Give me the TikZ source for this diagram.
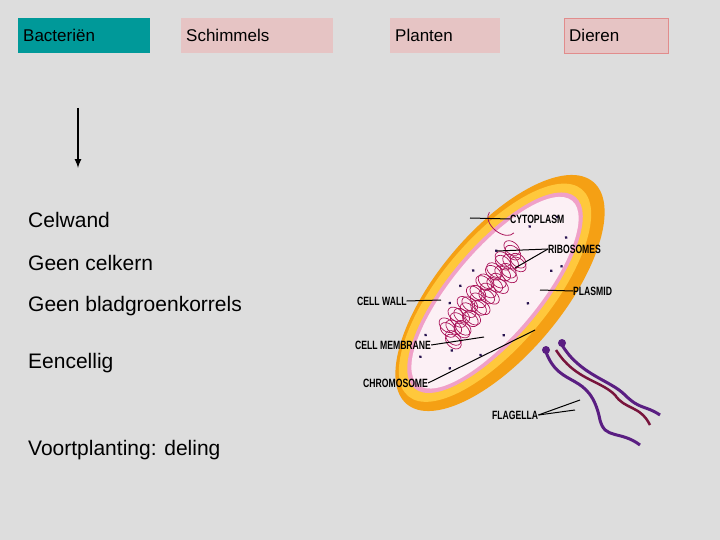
\documentclass[tikz,border=0pt]{standalone}
\usepackage{fontspec}
\setmainfont{Liberation Sans}
\definecolor{bg}{RGB}{221,221,221}
\definecolor{teal2}{RGB}{0,153,153}
\definecolor{pinkb}{RGB}{230,196,196}
\definecolor{pinkd}{RGB}{225,140,140}
\definecolor{wall}{RGB}{245,160,20}
\definecolor{wall2}{RGB}{255,200,60}
\definecolor{memb}{RGB}{240,160,200}
\definecolor{cyto}{RGB}{252,240,245}
\definecolor{chrom}{RGB}{170,20,90}
\definecolor{ribo}{RGB}{40,20,80}
\definecolor{flag}{RGB}{90,30,130}
\definecolor{flag2}{RGB}{120,20,60}
\begin{document}
\begin{tikzpicture}[x=1pt,y=-1pt,
  tab/.style={anchor=north west,font=\fontsize{17}{17}\selectfont,inner sep=0pt,minimum height=35pt,text depth=0pt,align=left},
  item/.style={anchor=west,font=\fontsize{21}{21}\selectfont,inner sep=0pt},
  lab/.style={font=\bfseries\fontsize{12}{12}\selectfont,xscale=0.72,inner sep=0pt},
  ln/.style={black,line width=1pt}]
\fill[bg] (0,0) rectangle (720,540);
\useasboundingbox (0,0) rectangle (720,540);
\node[tab,fill=teal2,minimum width=132pt,text width=122pt,inner xsep=5pt] (b) at (18,18) {Bacteriën};
\node[tab,fill=pinkb,minimum width=149pt,text width=142pt,inner xsep=5pt] (s) at (181,18) {Schimmels};
\node[tab,fill=pinkb,minimum width=107pt,text width=100pt,inner xsep=5pt] (p) at (390,18) {Planten};
\node[tab,fill=pinkb,draw=pinkd,minimum width=102pt,text width=94pt,inner xsep=5pt] (d) at (564,18) {Dieren};
\coordinate (a1) at (78,108); \coordinate (a2) at (78,168);
\draw[-latex,line width=2pt] (a1) -- (a2);
\node[item] (t1) at (28,220) {Celwand};
\node[item] (t2) at (28,263) {Geen celkern};
\node[item] (t3) at (28,306) {Geen bladgroenkorrels};
\node[item] (t4) at (28,363) {Eencellig};
\node[item] (t5) at (28,450) {Voortplanting: deling};
% bacterium
\begin{scope}[shift={(500,293)},rotate=50]
\fill[wall] (0,0) ellipse (145 and 62);
\fill[wall2] (-3,-4) ellipse (135 and 54);
\fill[memb] (-3,-4) ellipse (125 and 46);
\fill[cyto] (-3,-4) ellipse (120 and 42);
\foreach \i in {1,...,40}{\draw[chrom,line width=0.7pt] (-70+\i*2.8,{-12+8*sin(\i*70)}) circle (6 and 9);}
\draw[chrom,line width=0.8pt] (55,-28) arc (90:270:10 and 16);
\foreach \p in {(-100,-20),(-90,10),(-80,-30),(-60,25),(-40,-32),(-30,30),(0,-35),(10,28),(30,-30),(50,25),(70,-20),(85,15),(95,-5),(-75,0),(-20,-35),(60,30)}
  \fill[ribo] \p circle (1.6);
\end{scope}
\draw[flag,line width=3pt] (546,352) .. controls (560,390) and (590,370) .. (600,420) .. controls (605,440) and (620,430) .. (640,445);
\draw[flag2,line width=2.5pt] (556,350) .. controls (575,380) and (600,380) .. (615,395) .. controls (625,410) and (640,405) .. (650,425);
\draw[flag,line width=3pt] (562,345) .. controls (580,375) and (610,380) .. (625,395) .. controls (640,410) and (645,405) .. (660,415);
\fill[flag] (546,350) circle (4); \fill[flag] (562,343) circle (4);
\node[lab,anchor=west] (cy) at (510,219) {CYTOPLASM};
\node[lab,anchor=west] (ri) at (548,249) {RIBOSOMES};
\node[lab,anchor=west] (pl) at (573,291) {PLASMID};
\node[lab,anchor=west] (cw) at (357,301) {CELL WALL};
\node[lab,anchor=west] (cm) at (355,345) {CELL MEMBRANE};
\node[lab,anchor=west] (ch) at (363,383) {CHROMOSOME};
\node[lab,anchor=west] (fl) at (492,415) {FLAGELLA};
\coordinate (e1) at (470,218); \coordinate (e2) at (497,251); \coordinate (e3) at (515,268);
\coordinate (e4) at (540,290); \coordinate (e5) at (441,300); \coordinate (e6) at (484,337);
\coordinate (e7) at (535,330); \coordinate (e8) at (580,400); \coordinate (e9) at (575,410);
\draw[ln] (cy.west) -- (e1);
\draw[ln] (ri.west) -- (e2); \draw[ln] (ri.west) -- (e3);
\draw[ln] (pl.west) -- (e4);
\draw[ln] (cw.east) -- (e5);
\draw[ln] (cm.east) -- (e6);
\draw[ln] (ch.east) -- (e7);
\draw[ln] (fl.east) -- (e8); \draw[ln] (fl.east) -- (e9);
\end{tikzpicture}
\end{document}
